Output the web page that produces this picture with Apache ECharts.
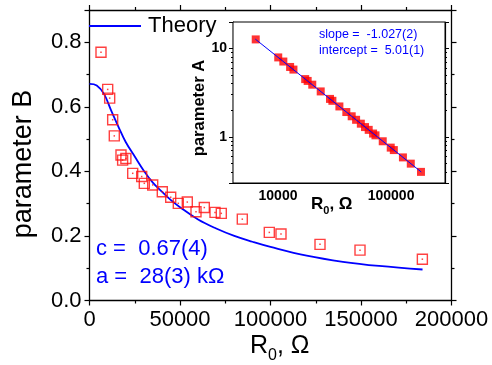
<!DOCTYPE html>
<html><head><meta charset="utf-8">
<script src="https://cdn.jsdelivr.net/npm/echarts@6/dist/echarts.min.js"></script>
<style>html,body{margin:0;padding:0;background:#fff}#c{width:492px;height:365px}</style>
</head><body><div id="c"></div>
<script>
// ---- data ----
const R0 = [6354, 10050, 11150, 12800, 13700, 17400, 18300, 20100, 23870, 28840, 30280, 34920, 40220, 44860, 49060, 54030, 58840, 63430, 69340, 72820, 84420, 99340, 105800, 127350, 149450, 183900];
const paramB = [0.769, 0.654, 0.627, 0.560, 0.510, 0.451, 0.435, 0.440, 0.394, 0.384, 0.363, 0.358, 0.337, 0.320, 0.301, 0.305, 0.275, 0.288, 0.273, 0.270, 0.252, 0.211, 0.206, 0.174, 0.156, 0.128];
const paramA = [12.7, 7.94, 7.13, 6.19, 5.78, 4.51, 4.30, 3.90, 3.27, 2.69, 2.56, 2.21, 1.91, 1.71, 1.56, 1.41, 1.29, 1.20, 1.09, 1.04, 0.891, 0.755, 0.708, 0.585, 0.497, 0.401];
const theoryR = [0, 4000, 8000, 12000, 16000, 20000, 25000, 30000, 35000, 40000, 45000, 50000, 60000, 70000, 80000, 90000, 100000, 120000, 140000, 160000, 184000];
const theoryB = [0.671, 0.666, 0.640, 0.588, 0.538, 0.491, 0.446, 0.402, 0.365, 0.337, 0.311, 0.289, 0.251, 0.223, 0.200, 0.182, 0.166, 0.139, 0.120, 0.107, 0.096];
const fitR = [6300, 185000];
const fitA = [12.8, 0.40];
const mainXRange = [0, 200000, 50000];
const mainYRange = [0, 0.9, 0.2];
const insetXRange = [4000, 300000];
const insetYRange = [0.3, 20];
const legendName = 'Theory';
const fitTexts = ['slope =  -1.027(2)', 'intercept =  5.01(1)'];
const paramTexts = ['c =  0.67(4)', 'a =  28(3) k\u03A9'];

// ---- chart ----
const FF = 'Liberation Sans, Arial, sans-serif';
const axisLineStyle = {color: '#000', width: 1.3};
const zip = (a, b) => a.map((v, i) => [v, b[i]]);

function mainAxis(pos, range, showLabel, fmt) {
  return {
    type: 'value', gridIndex: 0, position: pos,
    min: range[0], max: range[1], interval: range[2],
    axisLine: {show: true, onZero: false, lineStyle: axisLineStyle},
    axisTick: {show: true, inside: false, length: 5, lineStyle: {color: '#000', width: 1.2}},
    minorTick: {show: true, splitNumber: 2, length: 3, lineStyle: {color: '#000', width: 1.2}},
    splitLine: {show: false},
    axisLabel: {show: showLabel, fontSize: 22, color: '#000', fontFamily: FF, margin: 8,
      showMaxLabel: pos === 'left' ? false : true, formatter: fmt}
  };
}
function insetAxis(pos, range, showLabel, inside) {
  return {
    type: 'log', logBase: 10, gridIndex: 1, position: pos,
    min: range[0], max: range[1],
    axisLine: {show: true, onZero: false, lineStyle: {color: '#000', width: 1.2}},
    axisTick: {show: true, inside: inside, length: 4, lineStyle: {color: '#000'}},
    minorTick: {show: true, splitNumber: 9, length: 2, lineStyle: {color: '#000'}},
    splitLine: {show: false},
    axisLabel: {show: showLabel, fontSize: 14, fontWeight: 'bold', color: '#000', fontFamily: FF,
      margin: 6, showMinLabel: false, showMaxLabel: false,
      formatter: v => String(Math.round(v))}
  };
}

const chart = echarts.init(document.getElementById('c'), null, {renderer: 'canvas'});
chart.setOption({
  animation: false,
  backgroundColor: '#fff',
  textStyle: {fontFamily: FF},
  grid: [
    {left: 89.5, top: 10, right: 40.5, bottom: 64.5, show: false},
    {left: 233, top: 22, right: 47, bottom: 182, show: true, backgroundColor: '#fff', borderColor: '#000', borderWidth: 1, z: 5}
  ],
  legend: {
    data: [legendName], left: 89, top: 15, padding: 0, icon: 'rect', itemWidth: 52, itemHeight: 1.8, itemGap: 0,
    textStyle: {fontSize: 22, color: '#000', fontFamily: FF, padding: [0, 0, 0, 2]}
  },
  xAxis: [
    mainAxis('bottom', mainXRange, true, v => String(v)),
    mainAxis('top', mainXRange, false),
    insetAxis('bottom', insetXRange, true, true),
    insetAxis('top', insetXRange, false, true)
  ].map((a, i) => Object.assign(a, {gridIndex: i < 2 ? 0 : 1})),
  yAxis: [
    mainAxis('left', mainYRange, true, v => v.toFixed(1)),
    mainAxis('right', mainYRange, false),
    insetAxis('left', insetYRange, true, false),
    insetAxis('right', insetYRange, false, false)
  ].map((a, i) => Object.assign(a, {gridIndex: i < 2 ? 0 : 1})),
  series: [
    {name: legendName, type: 'line', xAxisIndex: 0, yAxisIndex: 0, data: zip(theoryR, theoryB),
      smooth: 0.4, symbol: 'none', lineStyle: {color: '#0000ff', width: 1.8}, itemStyle: {color: '#0000ff'}, z: 3},
    {type: 'scatter', xAxisIndex: 0, yAxisIndex: 0, data: zip(R0, paramB), symbol: 'rect', symbolSize: 10,
      itemStyle: {color: 'rgba(255,255,255,0)', borderColor: '#ff1010', borderWidth: 1.4}, z: 4},
    {type: 'scatter', xAxisIndex: 0, yAxisIndex: 0, data: zip(R0, paramB), symbol: 'rect', symbolSize: 1.5,
      itemStyle: {color: '#ff1010'}, z: 4},
    {type: 'scatter', xAxisIndex: 2, yAxisIndex: 2, data: zip(R0, paramA), symbol: 'rect', symbolSize: 8,
      itemStyle: {color: '#ff0000'}, z: 6},
    {type: 'line', xAxisIndex: 2, yAxisIndex: 2, data: zip(fitR, fitA), symbol: 'none',
      lineStyle: {color: '#0000ff', width: 1}, z: 7}
  ],
  graphic: [
    {type: 'text', x: 24, y: 164, rotation: Math.PI / 2, z: 10,
      style: {text: 'parameter B', fontSize: 27, fontFamily: FF, fill: '#000', align: 'center', verticalAlign: 'middle'}},
    {type: 'text', x: 250, y: 346, z: 10,
      style: {text: '{a|R}{b|0}{a|, \u03A9}', align: 'left', verticalAlign: 'middle',
        rich: {a: {fontSize: 25, fontFamily: FF, fill: '#000', lineHeight: 36, verticalAlign: 'middle'},
               b: {fontSize: 16, fontFamily: FF, fill: '#000', verticalAlign: 'bottom'}}}},
    {type: 'text', x: 96, y: 249, z: 10,
      style: {text: paramTexts[0], fontSize: 22, fontFamily: FF, fill: '#0000ff', align: 'left', verticalAlign: 'middle'}},
    {type: 'text', x: 96, y: 277, z: 10,
      style: {text: paramTexts[1], fontSize: 22, fontFamily: FF, fill: '#0000ff', align: 'left', verticalAlign: 'middle'}},
    {type: 'text', x: 319, y: 35, z: 10,
      style: {text: fitTexts[0], fontSize: 12.5, fontFamily: FF, fill: '#0000ff', align: 'left', verticalAlign: 'middle'}},
    {type: 'text', x: 319, y: 51, z: 10,
      style: {text: fitTexts[1], fontSize: 12.5, fontFamily: FF, fill: '#0000ff', align: 'left', verticalAlign: 'middle'}},
    {type: 'text', x: 199, y: 108, rotation: Math.PI / 2, z: 10,
      style: {text: 'parameter A', fontSize: 16.5, fontWeight: 'bold', fontFamily: FF, fill: '#000', align: 'center', verticalAlign: 'middle'}},
    {type: 'text', x: 311, y: 204, z: 10,
      style: {text: '{a|R}{b|0}{a|, \u03A9}', align: 'left', verticalAlign: 'middle',
        rich: {a: {fontSize: 17, fontWeight: 'bold', fontFamily: FF, fill: '#000', lineHeight: 24, verticalAlign: 'middle'},
               b: {fontSize: 11, fontWeight: 'bold', fontFamily: FF, fill: '#000', verticalAlign: 'bottom'}}}}
  ]
});
</script>
</body></html>
